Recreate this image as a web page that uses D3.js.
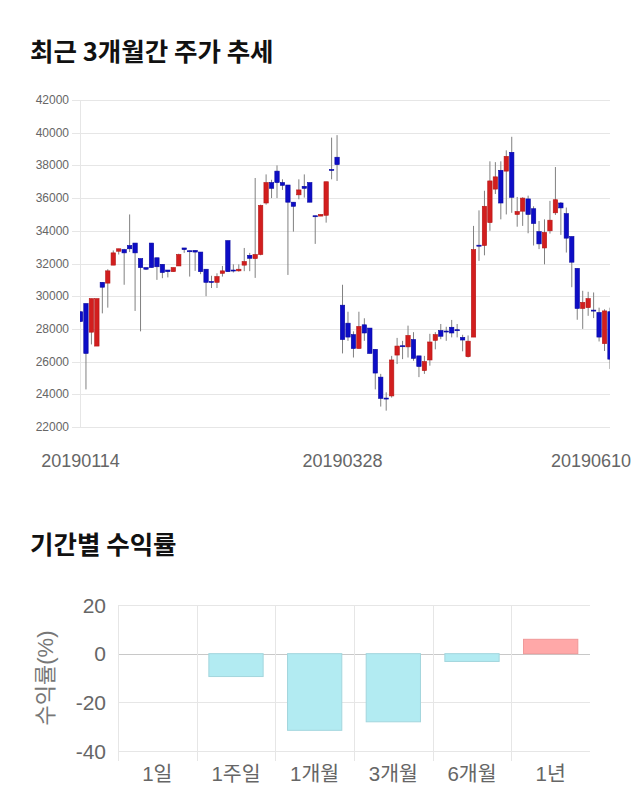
<!DOCTYPE html>
<html>
<head>
<meta charset="utf-8">
<script src="https://cdnjs.cloudflare.com/ajax/libs/d3/7.8.5/d3.min.js"></script>
<style>
  html, body { margin: 0; padding: 0; background: #ffffff; }
  svg { display: block; }
</style>
</head>
<body>
<svg id="chart" width="640" height="810"></svg>
<script>
// ---------- data: candlestick (daily OHLC) ----------
const openP = [29050,29550,27800,26950,30850,30800,31900,32750,32850,33100,
  33250,32300,31750,33250,32350,31950,31600,31500,31850,32950,
  32780,32800,32700,31650,30900,30850,31400,33400,31600,31550,
  31900,32500,32300,32550,35700,36950,37650,36950,36800,35750,
  36200,36720,36950,34920,34900,34950,37750,38500,29450,28350,
  27650,26800,28250,28050,26750,25050,23770,23900,26400,26970,
  26900,27350,26350,25450,26100,27300,27900,27870,28100,27950,
  27480,26300,27500,33120,33100,34500,36550,37700,37650,38800,
  35000,35200,35950,35350,33950,32950,34000,35100,35700,35050,
  33650,31700,29250,29300,29150,29000,27100,29050];
const highP = [29050,29550,29850,29850,30850,31650,32800,32900,32900,35000,
  33250,32300,31750,33250,32350,31950,31600,31750,32600,32950,
  32800,32800,32700,31650,31250,31400,31850,33400,31950,31950,
  32950,32650,37230,35600,37450,37120,38000,37150,36800,35750,
  37150,37450,36950,34920,35000,37000,39700,39850,30700,29050,
  27850,29050,28650,28050,26750,25250,24120,26350,27450,27270,
  28200,27800,26350,26350,27700,27800,28300,28130,28550,28300,
  27640,27600,34300,35250,36450,38250,38200,38250,38920,39750,
  36070,36050,36150,35500,34600,34700,35830,37900,35760,35420,
  33650,31700,30330,30270,30230,29300,29200,29300];
const lowP = [28450,24300,27050,26950,28950,29300,31900,32550,30700,32700,
  29100,27850,31600,31750,31000,31100,31150,31500,31850,32650,
  31200,31550,31350,30000,30500,30500,31200,31500,31450,31500,
  31530,31530,31120,32500,35600,36000,36000,36500,31300,33950,
  35930,36030,35750,33200,34900,34500,37150,37050,26500,27270,
  26250,26800,27270,26500,24300,23250,23000,23800,25850,26150,
  26250,26050,25050,25250,25750,26750,27370,27270,27480,27480,
  26630,26250,27500,32160,32500,34000,36250,34700,35000,35100,
  34250,34300,33850,33100,32880,31950,33830,34970,33750,32670,
  30550,28560,28000,28800,28660,27230,26650,25550];
const closeP = [28450,26500,29850,29850,30550,31550,32650,32900,32650,32900,
  32650,31750,31650,31750,31800,31450,31500,31750,32550,32850,
  32750,32700,31500,30850,30850,31200,31550,31500,31550,31650,
  32120,32320,32550,35550,36950,36600,36950,36780,35750,35500,
  36500,36600,35750,34900,35000,37000,37700,38050,27350,27500,
  26800,28150,27750,26500,25300,23750,23750,26100,26950,26950,
  27600,26200,25700,26000,27200,27650,27550,27850,27750,27930,
  27320,27250,32850,33080,35500,37050,37300,35700,38550,36050,
  35180,36000,35000,34450,33200,33900,34650,35900,35400,33550,
  32080,29250,29620,29850,29120,27500,29100,26150];
const priceTicks = [22000,24000,26000,28000,30000,32000,34000,36000,38000,40000,42000];
const dateTickIndex = [0, 48, 96];
const dateTickLabels = ["20190114", "20190328", "20190610"];

// ---------- data: period returns ----------
const periods = ["1일", "1주일", "1개월", "3개월", "6개월", "1년"];
const returns = [0, -9.4, -31.5, -28.0, -3.2, 5.9];
const returnTicks = [-40, -20, 0, 20];

const titleTop = "최근 3개월간 주가 추세";
const titleBottom = "기간별 수익률";
const yTitleBottom = "수익률(%)";

// ---------- drawing ----------
const svg = d3.select("#chart");
const latin = "'Liberation Sans', Arial, 'Noto Sans CJK KR', sans-serif";
const kr = "'Noto Sans CJK KR', 'Noto Sans', sans-serif";

svg.append("text").attr("x", 30).attr("y", 61)
  .attr("font-family", kr).attr("font-weight", "bold").attr("font-size", 25.5)
  .attr("fill", "#111").text(titleTop);

// candlestick chart
const pL = 80, pR = 610, pT = 100, pB = 427;
const idx = d3.range(openP.length);
const x = d3.scalePoint().domain(idx).range([pL + 0.5, pR]);
const y = d3.scaleLinear().domain([22000, 42000]).range([pB, pT]);
const step = x.step();
const bodyW = step * 0.8;

const g1 = svg.append("g");
g1.selectAll("line.grid").data(priceTicks).join("line")
  .attr("x1", pL - 8).attr("x2", pR)
  .attr("y1", d => Math.round(y(d)) + 0.5).attr("y2", d => Math.round(y(d)) + 0.5)
  .attr("stroke", "#e6e6e6").attr("stroke-width", 1);
g1.append("line").attr("x1", pL + 0.5).attr("x2", pL + 0.5)
  .attr("y1", pT).attr("y2", pB + 1).attr("stroke", "#e6e6e6");
g1.selectAll("text.ylab").data(priceTicks).join("text")
  .attr("x", 69).attr("y", d => y(d) + 4)
  .attr("text-anchor", "end").attr("font-family", latin).attr("font-size", 12)
  .attr("fill", "#666").text(d => d);

svg.append("clipPath").attr("id", "plotclip").append("rect")
  .attr("x", pL).attr("y", pT - 5).attr("width", pR - pL).attr("height", pB - pT + 10);
const cg = svg.append("g").attr("clip-path", "url(#plotclip)");
const cdata = idx.map(i => ({ i, o: openP[i], h: highP[i], l: lowP[i], c: closeP[i] }));
cg.selectAll("line.wick").data(cdata).join("line")
  .attr("x1", d => x(d.i)).attr("x2", d => x(d.i))
  .attr("y1", d => y(d.h)).attr("y2", d => y(d.l))
  .attr("stroke", "#808080").attr("stroke-width", 1);
cg.selectAll("rect.body").data(cdata).join("rect")
  .attr("x", d => x(d.i) - bodyW / 2).attr("width", bodyW)
  .attr("y", d => y(Math.max(d.o, d.c)))
  .attr("height", d => Math.max(1, Math.abs(y(d.o) - y(d.c))))
  .attr("fill", d => d.c > d.o ? "#d21e1e" : "#0d0dc6")
  .attr("stroke", d => d.c > d.o ? "#b41414" : "#06069e")
  .attr("stroke-width", 0.6);

const dl = svg.append("g").selectAll("text").data(dateTickIndex).join("text")
  .attr("x", d => x(d)).attr("y", 467)
  .attr("text-anchor", "middle").attr("font-family", latin).attr("font-size", 18)
  .attr("fill", "#666").text((d, k) => dateTickLabels[k]);
dl.each(function () {
  const bb = this.getBBox();
  if (bb.x + bb.width > 631) d3.select(this).attr("x", +d3.select(this).attr("x") - (bb.x + bb.width - 631));
  if (bb.x < 40) d3.select(this).attr("x", +d3.select(this).attr("x") + (40 - bb.x));
});

// returns bar chart
svg.append("text").attr("x", 30).attr("y", 554)
  .attr("font-family", kr).attr("font-weight", "bold").attr("font-size", 25.5)
  .attr("fill", "#111").text(titleBottom);

const bL = 118, bR = 590, bT = 605, bB = 751;
const xb = d3.scaleBand().domain(periods).range([bL, bR]).padding(0);
const yb = d3.scaleLinear().domain([-40, 20]).range([bB, bT]);
const g2 = svg.append("g");
g2.selectAll("line.hg").data(returnTicks).join("line")
  .attr("x1", bL).attr("x2", bR)
  .attr("y1", d => Math.round(yb(d)) + 0.5).attr("y2", d => Math.round(yb(d)) + 0.5)
  .attr("stroke", d => d === 0 ? "#c8c8c8" : "#e6e6e6");
g2.selectAll("line.vg").data(periods).join("line")
  .attr("x1", d => Math.round(xb(d)) + 0.5).attr("x2", d => Math.round(xb(d)) + 0.5)
  .attr("y1", bT).attr("y2", bB + 10)
  .attr("stroke", "#e6e6e6");
g2.selectAll("text.yl").data(returnTicks).join("text")
  .attr("x", 106).attr("y", d => yb(d) + 7.5)
  .attr("text-anchor", "end").attr("font-family", latin).attr("font-size", 21)
  .attr("fill", "#666").text(d => d);
g2.selectAll("text.xl").data(periods).join("text")
  .attr("x", d => xb(d) + xb.bandwidth() / 2).attr("y", 781)
  .attr("text-anchor", "middle").attr("font-family", latin).attr("font-size", 20.5)
  .attr("fill", "#666").text(d => d);
g2.append("text")
  .attr("transform", "translate(53,678) rotate(-90)")
  .attr("text-anchor", "middle").attr("font-family", latin).attr("font-size", 22)
  .attr("fill", "#777").text(yTitleBottom);

const bw = xb.bandwidth() * 0.69;
g2.selectAll("rect.bar").data(periods.map((p, k) => ({ p, v: returns[k] })).filter(d => d.v !== 0)).join("rect")
  .attr("x", d => xb(d.p) + (xb.bandwidth() - bw) / 2).attr("width", bw)
  .attr("y", d => yb(Math.max(0, d.v)))
  .attr("height", d => Math.abs(yb(d.v) - yb(0)))
  .attr("fill", d => d.v < 0 ? "#b2ebf2" : "#ffa8a8")
  .attr("stroke", d => d.v < 0 ? "#a3d6dd" : "#f09898")
  .attr("stroke-width", 1);
</script>
</body>
</html>
